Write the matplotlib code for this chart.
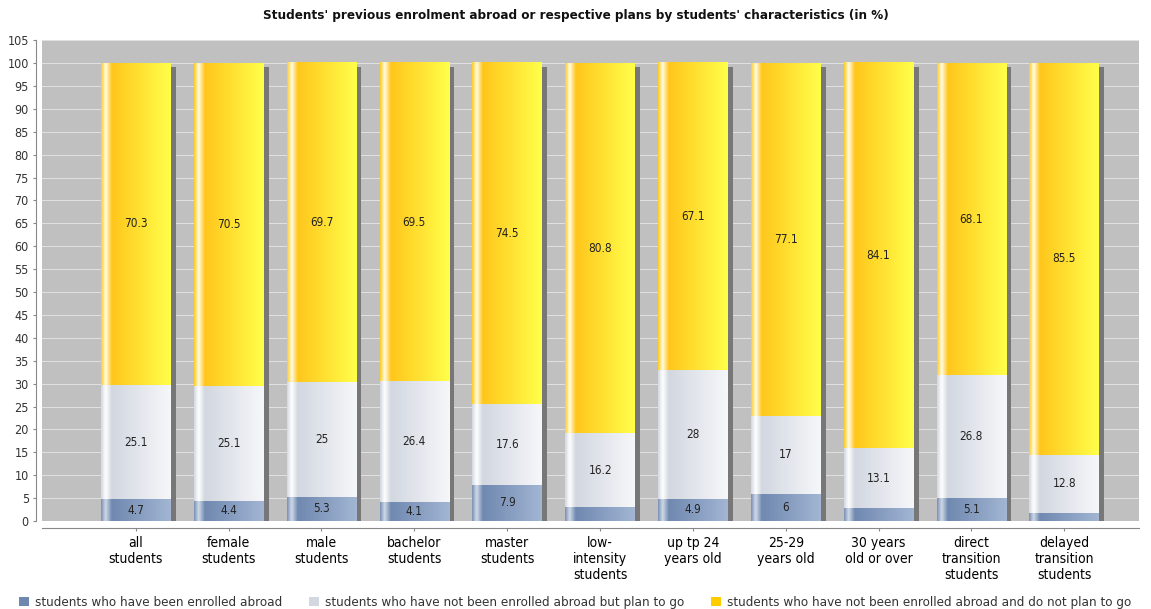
import numpy as np
import matplotlib
matplotlib.use("Agg")
import matplotlib.pyplot as plt
from matplotlib.colors import to_rgb
from matplotlib.patches import Rectangle, Patch

# ── data ────────────────────────────────────────────────────────────────
categories = ["all\nstudents", "female\nstudents", "male\nstudents", "bachelor\nstudents",
              "master\nstudents", "low-\nintensity\nstudents", "up tp 24\nyears old",
              "25-29\nyears old", "30 years\nold or over", "direct\ntransition\nstudents",
              "delayed\ntransition\nstudents"]
enrolled = [4.7, 4.4, 5.3, 4.1, 7.9, 3.0, 4.9, 6.0, 2.8, 5.1, 1.7]
plan_to_go = [25.1, 25.1, 25.0, 26.4, 17.6, 16.2, 28.0, 17.0, 13.1, 26.8, 12.8]
no_plan = [70.3, 70.5, 69.7, 69.5, 74.5, 80.8, 67.1, 77.1, 84.1, 68.1, 85.5]
series_names = ["students who have been enrolled abroad",
                "students who have not been enrolled abroad but plan to go",
                "students who have not been enrolled abroad and do not plan to go"]

# gradient stops per series (horizontal, across a bar)
GRAD = [
    [(0.0, "#8196b8"), (0.06, "#d0dae8"), (0.15, "#7089b0"), (1.0, "#a2b5d3")],
    [(0.0, "#d6dbe3"), (0.06, "#ffffff"), (0.15, "#d2d7e0"), (1.0, "#f6f7fa")],
    [(0.0, "#ffcf30"), (0.06, "#fffce6"), (0.15, "#ffc61c"), (1.0, "#ffff4a")],
]
LEGEND_COLORS = ["#6f88b0", "#d3d8e0", "#ffcc00"]

plt.rcParams["font.family"] = "DejaVu Sans"
plt.rcParams["font.stretch"] = "condensed"


def gradient(stops, n=64):
    pos = np.array([s[0] for s in stops])
    cols = np.array([to_rgb(s[1]) for s in stops])
    t = np.linspace(0, 1, n)
    img = np.stack([np.interp(t, pos, cols[:, c]) for c in range(3)], axis=-1)
    return img[np.newaxis, :, :]


def fmt(v):
    return f"{v:g}"


fig = plt.figure(figsize=(11.51, 6.09), dpi=100)
ax = fig.add_axes([0.0365, 0.1445, 0.9535, 0.7895])
ax.set_facecolor("#c0c0c0")

x = np.arange(len(categories))
bw = 0.75
series = [enrolled, plan_to_go, no_plan]
grads = [gradient(g) for g in GRAD]

for i in x:
    total = min(100.0, sum(s[i] for s in series))
    # drop shadow
    ax.add_patch(Rectangle((i - bw / 2 + 0.055, 0), bw, total - 0.9,
                           facecolor="#777777", edgecolor="none", zorder=2))
    bottom = 0.0
    for k, s in enumerate(series):
        v = s[i]
        top = min(bottom + v, 100.0)
        ax.imshow(grads[k], extent=[i - bw / 2, i + bw / 2, bottom, top],
                  aspect="auto", interpolation="bilinear", zorder=3)
        if v >= 4:
            ax.text(i, bottom + v / 2, fmt(v), ha="center", va="center",
                    fontsize=8.5, color="#222222", zorder=4)
        bottom += v

ax.set_xlim(-1.01, 10.81)
ax.set_ylim(0, 105)
ax.set_yticks(np.arange(0, 106, 5))
ax.set_xticks(x)
ax.set_xticklabels(categories, fontsize=8.5, color="#333333", linespacing=1.05)
ax.tick_params(axis="y", labelsize=9, labelcolor="#333333", length=2, color="#888888")
ax.tick_params(axis="x", length=2, color="#888888")
ax.yaxis.grid(True, color="#e2e2e2", linewidth=0.7)
ax.set_axisbelow(True)
for sp in ("top", "right"):
    ax.spines[sp].set_visible(False)
ax.spines["left"].set_position(("outward", 4))
ax.spines["bottom"].set_position(("outward", 5))
ax.spines["left"].set_color("#888888")
ax.spines["bottom"].set_color("#888888")

fig.text(0.5, 0.975, "Students' previous enrolment abroad or respective plans by students' characteristics (in %)",
         ha="center", va="center", fontsize=9.6, fontweight="bold", color="#111111")

handles = [Patch(facecolor=c, edgecolor="none") for c in LEGEND_COLORS]
fig.legend(handles, series_names, loc="lower center", bbox_to_anchor=(0.5, -0.02), ncol=3,
           frameon=False, fontsize=9.6, handlelength=0.7, handleheight=0.7,
           handletextpad=0.5, columnspacing=2.0, labelcolor="#333333")

fig.savefig("out.png", dpi=100)
